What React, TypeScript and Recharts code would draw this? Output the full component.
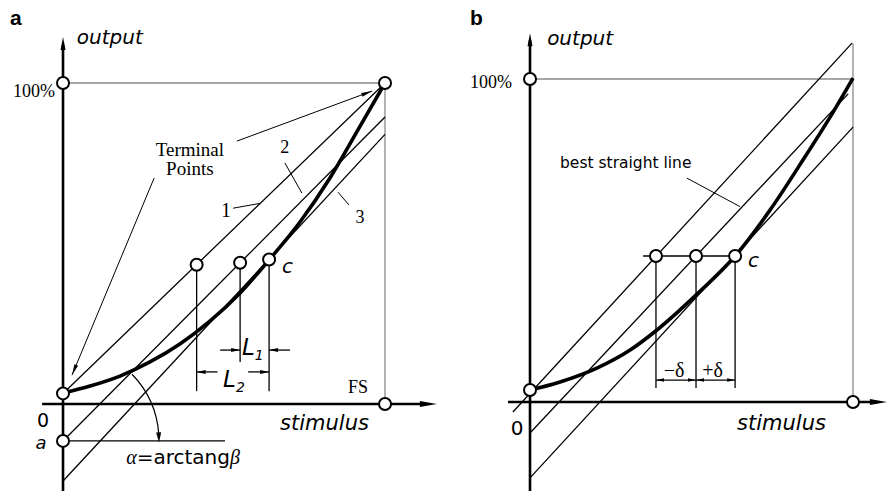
import React from 'react';
import { ComposedChart, XAxis, YAxis, Line, ReferenceLine, ReferenceDot } from 'recharts';

type Pt = { x: number; y: number };

// ---- panel a: terminal-point linearity ----
const curveA: Pt[] = [
  { x: 0, y: 3.4 }, { x: 8.4, y: 5.6 }, { x: 17.7, y: 8.7 }, { x: 27.0, y: 13.1 },
  { x: 36.3, y: 18.7 }, { x: 45.7, y: 25.9 }, { x: 55.0, y: 34.6 }, { x: 64.0, y: 44.9 },
  { x: 73.6, y: 56.7 }, { x: 82.9, y: 70.4 }, { x: 91.6, y: 85.4 }, { x: 100, y: 100 },
];
const line1A: Pt[] = [{ x: 0, y: 3.3 }, { x: 100, y: 100 }];
const line2A: Pt[] = [{ x: 0, y: -11.5 }, { x: 100, y: 89.4 }];
const line3A: Pt[] = [{ x: 0, y: -24 }, { x: 100, y: 84 }];
const circlesA: Pt[] = [
  { x: 0, y: 100 }, { x: 100, y: 100 }, { x: 0, y: 3.3 }, { x: 100, y: 0 },
  { x: 0, y: -11.5 }, { x: 41.5, y: 43.4 }, { x: 55, y: 44 }, { x: 64, y: 45 },
];
const dropsA = [
  { x: 41.5, top: 43.4, bottom: 4 },
  { x: 55, top: 44, bottom: 13.1 },
  { x: 64, top: 45, bottom: 4 },
];
const yAxisA: Pt[] = [{ x: 0, y: -27.1 }, { x: 0, y: 112 }];
const xAxisA: Pt[] = [{ x: -6.5, y: 0 }, { x: 112, y: 0 }];
const levelA: Pt[] = [{ x: 0, y: -11.5 }, { x: 50.3, y: -11.5 }];

// ---- panel b: best straight line ----
const curveB: Pt[] = [
  { x: 0, y: 3.7 }, { x: 9.3, y: 6.2 }, { x: 20.7, y: 10.5 }, { x: 31, y: 16.1 },
  { x: 39.3, y: 22.3 }, { x: 51.7, y: 33.4 }, { x: 63.5, y: 45.2 }, { x: 74.3, y: 59.4 },
  { x: 84.5, y: 74.9 }, { x: 92.9, y: 88.2 }, { x: 100, y: 100.3 },
];
const upperB: Pt[] = [{ x: -5.3, y: -3.1 }, { x: 99.7, y: 111.1 }];
const bestB: Pt[] = [{ x: 0, y: -9.6 }, { x: 98.5, y: 95.4 }];
const lowerB: Pt[] = [{ x: 0, y: -23.5 }, { x: 100, y: 85.1 }];
const circlesB: Pt[] = [
  { x: 0, y: 100 }, { x: 0, y: 3.7 }, { x: 100, y: 0 },
  { x: 39, y: 45.2 }, { x: 51.4, y: 45.2 }, { x: 63.5, y: 45.2 },
];
const dropsB = [39, 51.4, 63.5];
const yAxisB: Pt[] = [{ x: 0, y: -27.6 }, { x: 0, y: 112 }];
const xAxisB: Pt[] = [{ x: -6.8, y: 0 }, { x: 106, y: 0 }];

const SANS = 'DejaVu Sans';
const SERIF = 'Liberation Serif';

const arrowHead = (deg: number, len = 10, w = 5) => (p: any) => {
  const a = (deg * Math.PI) / 180;
  const c = Math.cos(a);
  const s = Math.sin(a);
  const bx = p.cx - len * c;
  const by = p.cy - len * s;
  const pts = `${p.cx},${p.cy} ${bx - (w / 2) * s},${by + (w / 2) * c} ${bx + (w / 2) * s},${by - (w / 2) * c}`;
  return <polygon points={pts} fill="#000" />;
};

const txt = (content: React.ReactNode, style: React.SVGProps<SVGTextElement>) => (p: any) => (
  <text x={p.cx} y={p.cy} fill="#000" {...style}>{content}</text>
);

// arc for the angle alpha, drawn around point a
const angleArc = (p: any) => {
  const r = 96;
  const a0 = (-44 * Math.PI) / 180;
  const a1 = (-4 * Math.PI) / 180;
  const x0 = p.cx + r * Math.cos(a0);
  const y0 = p.cy + r * Math.sin(a0);
  const x1 = p.cx + r * Math.cos(a1);
  const y1 = p.cy + r * Math.sin(a1);
  return (
    <g>
      <path d={`M${x0},${y0} A${r},${r} 0 0 1 ${x1},${y1}`} fill="none" stroke="#000" strokeWidth={1.2} />
      {arrowHead(88, 10, 5)({ cx: p.cx + r * Math.cos(0.005), cy: p.cy + r * Math.sin(0.005) + 1 })}
    </g>
  );
};

const thin = { stroke: '#000', strokeWidth: 1.3, ifOverflow: 'visible' as const };
const gray = { stroke: '#8a8a8a', strokeWidth: 1.3, ifOverflow: 'visible' as const };
const axis = { stroke: '#000', strokeWidth: 2.6, ifOverflow: 'visible' as const };

const Circles = (pts: Pt[]) =>
  pts.map((p, i) => (
    <ReferenceDot key={`c${i}`} x={p.x} y={p.y} r={6} fill="#fff" stroke="#000" strokeWidth={2} ifOverflow="visible" zIndex={1800} />
  ));

const Mark = (x: number, y: number, shape: any, key: string) => (
  <ReferenceDot key={key} x={x} y={y} r={0} shape={shape} ifOverflow="visible" zIndex={1900} />
);

const PanelA = () => (
  <ComposedChart width={445} height={491} margin={{ top: 0, right: 0, bottom: 0, left: 0 }}>
    <XAxis type="number" dataKey="x" domain={[-19.57, 118.63]} hide allowDataOverflow />
    <YAxis type="number" dataKey="y" domain={[-27.1, 125.86]} hide allowDataOverflow />
    <ReferenceLine segment={[{ x: 0, y: 100 }, { x: 100, y: 100 }]} {...gray} />
    <ReferenceLine segment={[{ x: 100, y: 0 }, { x: 100, y: 100 }]} {...gray} />
    <ReferenceLine segment={line1A} {...thin} />
    <ReferenceLine segment={line2A} {...thin} />
    <ReferenceLine segment={line3A} {...thin} />
    <ReferenceLine segment={levelA} {...thin} />
    {dropsA.map((d, i) => (
      <ReferenceLine key={`d${i}`} segment={[{ x: d.x, y: d.top }, { x: d.x, y: d.bottom }]} {...thin} />
    ))}
    {/* L1 / L2 dimension arrows */}
    <ReferenceLine segment={[{ x: 48.8, y: 16.8 }, { x: 55, y: 16.8 }]} {...thin} />
    <ReferenceLine segment={[{ x: 64, y: 16.8 }, { x: 70.5, y: 16.8 }]} {...thin} />
    <ReferenceLine segment={[{ x: 41.5, y: 10 }, { x: 48, y: 10 }]} {...thin} />
    <ReferenceLine segment={[{ x: 57.5, y: 10 }, { x: 64, y: 10 }]} {...thin} />
    {Mark(55, 16.8, arrowHead(0, 9, 4), 'l1a')}
    {Mark(64, 16.8, arrowHead(180, 9, 4), 'l1b')}
    {Mark(41.5, 10, arrowHead(180, 9, 4), 'l2a')}
    {Mark(64, 10, arrowHead(0, 9, 4), 'l2b')}
    {/* leaders */}
    <ReferenceLine segment={[{ x: 54, y: 81.9 }, { x: 96, y: 97.5 }]} {...thin} strokeWidth={1} />
    <ReferenceLine segment={[{ x: 28.3, y: 70.4 }, { x: 2.8, y: 9.0 }]} {...thin} strokeWidth={1} />
    {Mark(96, 97.5, arrowHead(-20.3, 11, 4), 'tp1')}
    {Mark(2.8, 9.0, arrowHead(112.6, 11, 4), 'tp2')}
    <ReferenceLine segment={[{ x: 52.8, y: 61 }, { x: 61.2, y: 62.5 }]} {...thin} strokeWidth={1} />
    <ReferenceLine segment={[{ x: 68.9, y: 75.1 }, { x: 74.2, y: 65.7 }]} {...thin} strokeWidth={1} />
    <ReferenceLine segment={[{ x: 85.4, y: 66 }, { x: 88.8, y: 62 }]} {...thin} strokeWidth={1} />
    <Line data={curveA} dataKey="y" type="monotone" stroke="#000" strokeWidth={3.6} dot={false} activeDot={false} isAnimationActive={false} />
    <ReferenceLine segment={yAxisA} {...axis} />
    <ReferenceLine segment={xAxisA} {...axis} />
    {Mark(0, 114.3, arrowHead(-90, 13, 5), 'ya')}
    {Mark(116.1, 0, arrowHead(0, 17, 6), 'xa')}
    {Mark(0, -11.5, angleArc, 'arc')}
    {Circles(circlesA)}
    {Mark(-16.5, 118.1, txt('a', { fontFamily: 'Liberation Sans', fontWeight: 700, fontSize: 21 }), 'ta')}
    {Mark(4.3, 112.1, txt('output', { fontFamily: SANS, fontStyle: 'italic', fontSize: 20 }), 'to')}
    {Mark(-2.5, 95.6, txt('100%', { fontFamily: SERIF, fontSize: 18, textAnchor: 'end' }), 't100')}
    {Mark(39.4, 77.2, txt('Terminal', { fontFamily: SERIF, fontSize: 19, textAnchor: 'middle' }), 'tt1')}
    {Mark(39.4, 71.3, txt('Points', { fontFamily: SERIF, fontSize: 19, textAnchor: 'middle' }), 'tt2')}
    {Mark(50.6, 58.3, txt('1', { fontFamily: SERIF, fontSize: 20, textAnchor: 'middle' }), 'n1')}
    {Mark(68.9, 78.2, txt('2', { fontFamily: SERIF, fontSize: 18, textAnchor: 'middle' }), 'n2')}
    {Mark(92.2, 56.4, txt('3', { fontFamily: SERIF, fontSize: 18, textAnchor: 'middle' }), 'n3')}
    {Mark(68, 40.8, txt('c', { fontFamily: SANS, fontStyle: 'italic', fontSize: 20 }), 'tc')}
    {Mark(55.6, 15.3, txt(<>L<tspan fontSize={14} dy={5}>1</tspan></>, { fontFamily: SANS, fontStyle: 'italic', fontSize: 23 }), 'tl1')}
    {Mark(49.7, 5.3, txt(<>L<tspan fontSize={14} dy={5}>2</tspan></>, { fontFamily: SANS, fontStyle: 'italic', fontSize: 23 }), 'tl2')}
    {Mark(88.5, 3.4, txt('FS', { fontFamily: SERIF, fontSize: 18 }), 'tfs')}
    {Mark(-6.2, -7.3, txt('0', { fontFamily: SANS, fontSize: 19, textAnchor: 'middle' }), 't0')}
    {Mark(-6.8, -14, txt('a', { fontFamily: SANS, fontStyle: 'italic', fontSize: 18, textAnchor: 'middle' }), 'tav')}
    {Mark(67.4, -8.1, txt('stimulus', { fontFamily: SANS, fontStyle: 'italic', fontSize: 21 }), 'ts')}
    {Mark(19.6, -18.7, txt(<><tspan fontFamily={SERIF} fontStyle="italic">α</tspan>=arctang<tspan fontFamily={SERIF} fontStyle="italic">β</tspan></>, { fontFamily: SANS, fontSize: 20 }), 'talpha')}
  </ComposedChart>
);

const PanelB = () => (
  <ComposedChart width={444} height={491} margin={{ top: 0, right: 0, bottom: 0, left: 0 }}>
    <XAxis type="number" dataKey="x" domain={[-26.32, 111.15]} hide allowDataOverflow />
    <YAxis type="number" dataKey="y" domain={[-27.55, 124.46]} hide allowDataOverflow />
    <ReferenceLine segment={[{ x: 0, y: 100 }, { x: 100, y: 100 }]} {...gray} />
    <ReferenceLine segment={[{ x: 100, y: 0 }, { x: 100, y: 111.1 }]} {...gray} />
    <ReferenceLine segment={upperB} {...thin} />
    <ReferenceLine segment={bestB} {...thin} />
    <ReferenceLine segment={lowerB} {...thin} />
    <ReferenceLine segment={[{ x: 35, y: 45.2 }, { x: 65, y: 45.2 }]} {...thin} />
    {dropsB.map((x, i) => (
      <ReferenceLine key={`d${i}`} segment={[{ x, y: 45.2 }, { x, y: 4.3 }]} {...thin} />
    ))}
    <ReferenceLine segment={[{ x: 39, y: 6.8 }, { x: 63.5, y: 6.8 }]} {...thin} />
    {Mark(39, 6.8, arrowHead(180, 8, 3.5), 'da')}
    {Mark(51.4, 6.8, arrowHead(0, 8, 3.5), 'db')}
    {Mark(51.4, 6.8, arrowHead(180, 8, 3.5), 'dc')}
    {Mark(63.5, 6.8, arrowHead(0, 8, 3.5), 'dd')}
    <ReferenceLine segment={[{ x: 48.6, y: 69.3 }, { x: 65, y: 60.5 }]} {...thin} strokeWidth={1} />
    <Line data={curveB} dataKey="y" type="monotone" stroke="#000" strokeWidth={3.6} dot={false} activeDot={false} isAnimationActive={false} />
    <ReferenceLine segment={yAxisB} {...axis} />
    <ReferenceLine segment={xAxisB} {...axis} />
    {Mark(0, 114.2, arrowHead(-90, 13, 5), 'ya')}
    {Mark(110.5, 0, arrowHead(0, 17, 6), 'xa')}
    {Circles(circlesB)}
    {Mark(-18.6, 116.7, txt('b', { fontFamily: 'Liberation Sans', fontWeight: 700, fontSize: 21 }), 'tb')}
    {Mark(5.3, 110.5, txt('output', { fontFamily: SANS, fontStyle: 'italic', fontSize: 20 }), 'to')}
    {Mark(-5.6, 97.2, txt('100%', { fontFamily: SERIF, fontSize: 18, textAnchor: 'end' }), 't100')}
    {Mark(9.3, 72.4, txt('best straight line', { fontFamily: SANS, fontSize: 15.5 }), 'tbest')}
    {Mark(67.5, 41.8, txt('c', { fontFamily: SANS, fontStyle: 'italic', fontSize: 20 }), 'tc')}
    {Mark(44.6, 7.7, txt('−δ', { fontFamily: SERIF, fontSize: 20, textAnchor: 'middle' }), 'tdm')}
    {Mark(56.5, 7.7, txt('+δ', { fontFamily: SERIF, fontSize: 20, textAnchor: 'middle' }), 'tdp')}
    {Mark(-4, -10.2, txt('0', { fontFamily: SANS, fontSize: 20, textAnchor: 'middle' }), 't0')}
    {Mark(64.1, -8.7, txt('stimulus', { fontFamily: SANS, fontStyle: 'italic', fontSize: 21 }), 'ts')}
  </ComposedChart>
);

export default function App() {
  return (
    <div style={{ position: 'absolute', left: 0, top: 0, width: 889, height: 491, background: '#fff' }}>
      <div style={{ position: 'absolute', left: 0, top: 0 }}>
        <PanelA />
      </div>
      <div style={{ position: 'absolute', left: 445, top: 0 }}>
        <PanelB />
      </div>
    </div>
  );
}
